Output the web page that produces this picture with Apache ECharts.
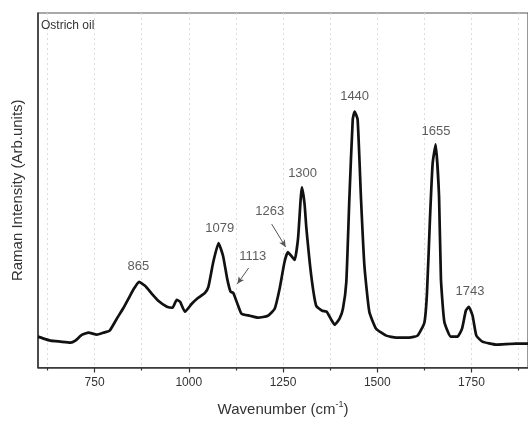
<!DOCTYPE html>
<html>
<head>
<meta charset="utf-8">
<script src="https://cdn.jsdelivr.net/npm/echarts@6/dist/echarts.min.js"></script>
<style>
  html, body { margin: 0; padding: 0; background: #fff; }
  #chart { width: 528px; height: 422px; }
</style>
</head>
<body>
<div id="chart"></div>
<script>
// spectrum (wavenumber in cm-1, intensity in arb. units)
const wavenumber = [
  600, 615, 633, 659, 686, 699, 717, 734, 756, 774, 790, 809, 827, 844, 856, 868,
  884, 902, 919, 942, 957, 968, 977, 990, 1008, 1025, 1043, 1052, 1065, 1079, 1091,
  1102, 1111, 1118, 1131, 1140, 1162, 1184, 1210, 1228, 1241, 1254, 1263, 1272, 1281,
  1290, 1300, 1307, 1312, 1325, 1338, 1354, 1366, 1378, 1387, 1400, 1409, 1418, 1426,
  1435, 1440, 1448, 1457, 1466, 1479, 1497, 1524, 1550, 1585, 1607, 1625, 1632, 1640,
  1647, 1655, 1664, 1669, 1678, 1695, 1713, 1725, 1735, 1743, 1753, 1763, 1779, 1815,
  1868, 1900
]
const intensity = [
  31, 29, 27, 26, 25, 27, 33, 35, 33, 35, 37, 49, 60, 72, 80, 86,
  82, 74, 67, 61, 60, 68, 66, 56, 64, 70, 75, 81, 106, 125, 112,
  89, 76, 75, 62, 54, 52, 50, 52, 59, 79, 106, 116, 112, 108,
  130, 181, 165, 140, 92, 62, 57, 56, 48, 43, 49, 59, 86, 169,
  249, 257, 249, 169, 102, 56, 39, 32, 30, 30, 32, 45, 75, 150,
  205, 224, 172, 89, 46, 31, 31, 39, 57, 61, 52, 32, 26, 23,
  24, 24
]

// peak annotations
const peakNames = ['865', '1079', '1113', '1263', '1300', '1440', '1655', '1743']
const peakLabelX = [866, 1082, 1170, 1215, 1302, 1440, 1656, 1746]
const peakLabelY = [102, 140, 112, 157, 195, 272, 237, 76]
// arrows: [fromX, fromY, toX, toY]
const arrows = [
  [1159, 100, 1129, 84],
  [1220, 144, 1257, 121]
]

const majorTicks = [750, 1000, 1250, 1500, 1750]
const minorTicks = [625, 875, 1125, 1375, 1625, 1875]

const chart = echarts.init(document.getElementById('chart'))

const spectrum = wavenumber.map((x, i) => [x, intensity[i]])
const labels = peakNames.map((name, i) => ({ name: name, value: [peakLabelX[i], peakLabelY[i]] }))

const gridLine = {
  show: true,
  lineStyle: { color: '#dcdcdc', type: [2, 3], width: 1 }
}

const option = {
  animation: false,
  textStyle: { fontFamily: 'Liberation Sans, Arial, sans-serif' },
  title: {
    text: 'Ostrich oil',
    left: 41,
    top: 20,
    padding: 0,
    textStyle: { fontSize: 12, fontWeight: 'normal', color: '#333' }
  },
  grid: {
    left: 38,
    top: 13,
    width: 491,
    height: 356,
    show: true,
    borderColor: '#555',
    borderWidth: 1.2
  },
  xAxis: [
    {
      type: 'value',
      min: 600,
      max: 1900,
      name: 'Wavenumber (cm{sup|-1})',
      nameLocation: 'middle',
      nameGap: 33,
      nameTextStyle: {
        fontSize: 15,
        color: '#333',
        rich: {
          sup: { fontSize: 9, color: '#333', padding: [0, 0, 9, 0] }
        }
      },
      axisLine: { show: true, onZero: false, lineStyle: { color: '#333', width: 1.5 } },
      axisTick: { show: true, length: 5, customValues: majorTicks, lineStyle: { color: '#333', width: 1.2 } },
      axisLabel: {
        fontSize: 12,
        color: '#333',
        margin: 9,
        customValues: majorTicks,
        formatter: v => String(v)
      },
      splitLine: gridLine
    },
    {
      type: 'value',
      min: 600,
      max: 1900,
      position: 'bottom',
      axisLine: { show: false },
      axisTick: { show: true, length: 3, customValues: minorTicks, lineStyle: { color: '#333', width: 1.2 } },
      axisLabel: { show: false },
      splitLine: gridLine
    }
  ],
  yAxis: {
    type: 'value',
    min: 0,
    max: 356,
    name: 'Raman Intensity (Arb.units)',
    nameLocation: 'middle',
    nameGap: 13,
    nameTextStyle: { fontSize: 15, color: '#333' },
    axisLine: { show: true, lineStyle: { color: '#333', width: 1.5 } },
    axisTick: { show: false },
    axisLabel: { show: false },
    splitLine: { show: false }
  },
  series: [
    {
      type: 'line',
      data: spectrum,
      showSymbol: false,
      smooth: 0.15,
      lineStyle: { color: '#111', width: 2.7 },
      markLine: {
        silent: true,
        symbol: ['none', 'arrow'],
        symbolSize: [5, 7],
        label: { show: false },
        lineStyle: { color: '#555', width: 1, type: 'solid' },
        data: arrows.map(a => [{ coord: [a[0], a[1]] }, { coord: [a[2], a[3]] }])
      }
    },
    {
      type: 'scatter',
      data: labels,
      symbolSize: 0,
      label: {
        show: true,
        position: 'inside',
        formatter: p => p.name,
        fontSize: 13,
        color: '#333'
      }
    }
  ]
}

chart.setOption(option)
</script>
</body>
</html>
